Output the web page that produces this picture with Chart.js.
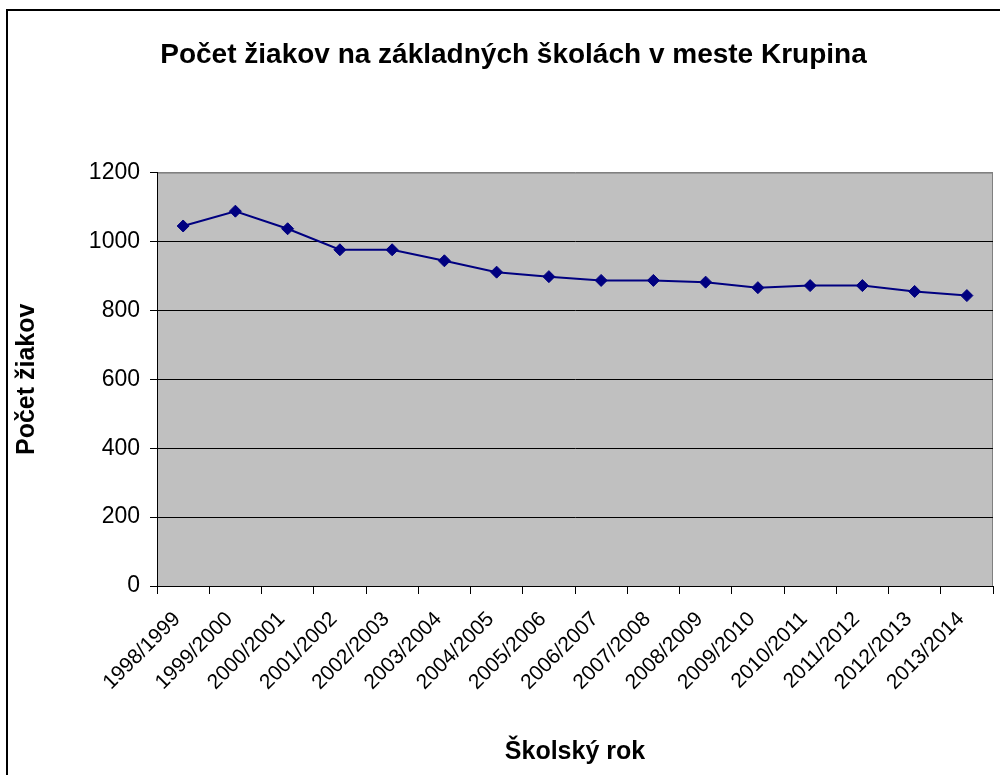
<!DOCTYPE html>
<html>
<head>
<meta charset="utf-8">
<script src="https://cdn.jsdelivr.net/npm/chart.js@4.4.0/dist/chart.umd.min.js"></script>
<style>
  body { margin: 0; background: #fff; }
</style>
</head>
<body>
<canvas id="lineChart" width="1000" height="775"></canvas>
<script>
const skolskeRoky = ['1998/1999', '1999/2000', '2000/2001', '2001/2002', '2002/2003', '2003/2004',
  '2004/2005', '2005/2006', '2006/2007', '2007/2008', '2008/2009', '2009/2010',
  '2010/2011', '2011/2012', '2012/2013', '2013/2014'];
const pocetZiakov = [1045, 1088, 1037, 976, 976, 944, 911, 898, 887, 887, 882, 866, 872, 872, 855, 843];
const yTicks = [0, 200, 400, 600, 800, 1000, 1200];

const FONT = 'Arial, "Liberation Sans", sans-serif';

// seda plocha grafu + ramik okolo celeho obrazku
const plotBg = {
  id: 'plotBg',
  beforeDraw(chart) {
    const { ctx, chartArea: a } = chart;
    ctx.save();
    ctx.fillStyle = '#c0c0c0';
    ctx.fillRect(a.left, a.top, a.right - a.left, a.bottom - a.top);
    ctx.strokeStyle = '#808080';
    ctx.lineWidth = 1;
    ctx.strokeRect(a.left + 0.5, a.top + 0.5, a.right - a.left - 1, a.bottom - a.top);
    ctx.strokeStyle = '#000';
    ctx.lineWidth = 2;
    ctx.beginPath();
    ctx.moveTo(7, 775);
    ctx.lineTo(7, 10);
    ctx.lineTo(1000, 10);
    ctx.stroke();
    ctx.restore();
  }
};

new Chart(document.getElementById('lineChart'), {
  type: 'line',
  data: {
    labels: skolskeRoky,
    datasets: [{
      data: pocetZiakov,
      borderColor: '#000080',
      backgroundColor: '#000080',
      borderWidth: 2,
      pointStyle: 'rectRot',
      pointRadius: 6,
      pointBorderWidth: 1,
      tension: 0
    }]
  },
  options: {
    responsive: false,
    devicePixelRatio: 1,
    animation: false,
    layout: { padding: { left: 34, right: 7, top: 0, bottom: 0 } },
    plugins: {
      legend: { display: false },
      tooltip: { enabled: false },
      title: {
        display: true,
        text: 'Počet žiakov na základných školách v meste Krupina',
        color: '#000',
        font: { family: FONT, size: 28, weight: 'bold' },
        padding: { top: 38, bottom: 101 }
      }
    },
    scales: {
      x: {
        offset: true,
        grid: { offset: true, drawOnChartArea: false, color: '#000', tickLength: 8 },
        border: { color: '#000', width: 1 },
        ticks: {
          color: '#000',
          font: { family: FONT, size: 21 },
          minRotation: 45,
          maxRotation: 45,
          autoSkip: false,
          padding: 13,
          labelOffset: -6
        },
        title: {
          display: true,
          text: 'Školský rok',
          color: '#000',
          font: { family: FONT, size: 25, weight: 'bold' },
          padding: { top: 8, bottom: 8 }
        },
        afterFit(scale) { scale.height = 775 - 586; }
      },
      y: {
        min: 0,
        max: 1200,
        afterBuildTicks(scale) { scale.ticks = yTicks.map(v => ({ value: v })); },
        grid: {
          color: ctx => (ctx.tick && ctx.tick.value === 1200) ? '#808080' : '#000',
          tickColor: '#000',
          tickLength: 7
        },
        border: { color: '#000', width: 1 },
        ticks: {
          color: '#000',
          font: { family: FONT, size: 23 },
          padding: 10,
          callback: v => String(v)
        },
        title: {
          display: true,
          text: 'Počet žiakov',
          color: '#000',
          font: { family: FONT, size: 25, weight: 'bold' },
          padding: { top: -22, bottom: 0 }
        },
        afterFit(scale) { scale.width = 157 - 34; }
      }
    }
  },
  plugins: [plotBg]
});
</script>
</body>
</html>
